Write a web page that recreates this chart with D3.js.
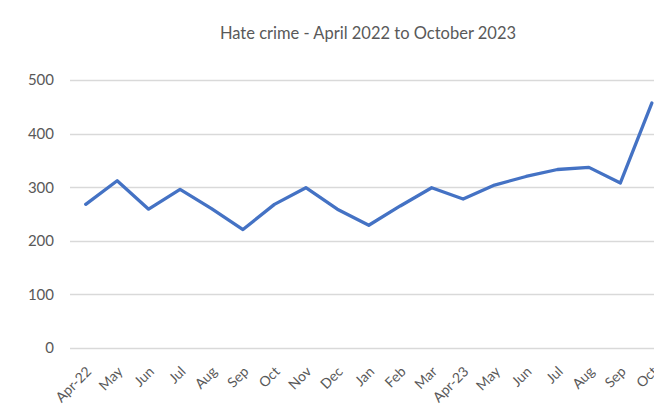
<!DOCTYPE html>
<html>
<head>
<meta charset="utf-8">
<script src="https://cdn.jsdelivr.net/npm/d3@7"></script>
<style>
    body { margin: 0; background: #fff; overflow: hidden; }
    text { font-family: Lato, "Open Sans", sans-serif; fill: #595959; }
</style>
</head>
<body>
<div id="chart"></div>
<script>
// chart data
let months = ["Apr-22", "May", "Jun", "Jul", "Aug", "Sep", "Oct", "Nov", "Dec", "Jan",
    "Feb", "Mar", "Apr-23", "May", "Jun", "Jul", "Aug", "Sep", "Oct"];
let crimes = [268, 312, 259, 296, 260, 221, 268, 299, 259, 229,
    265, 299, 278, 304, 320, 333, 337, 308, 457];
let yTicks = [0, 100, 200, 300, 400, 500];
let chartTitle = "Hate crime - April 2022 to October 2023";

let width = 654, height = 404;
let left = 70, bandW = 31.45;

let svg = d3.select("#chart").append("svg")
    .attr("width", width)
    .attr("height", height);

let keys = months.map(function(d, i) { return i });

let x = d3.scaleBand()
    .domain(keys)
    .range([left, left + bandW * months.length]);

let y = d3.scaleLinear()
    .domain([0, 500])
    .range([348, 80]);

// title
svg.append("text")
    .attr("x", 368)
    .attr("y", 39)
    .attr("text-anchor", "middle")
    .style("font-size", "16.5px")
    .text(chartTitle);

// gridlines
svg.append("g").selectAll("line")
    .data(yTicks)
    .enter()
    .append("line")
    .attr("x1", left)
    .attr("x2", width)
    .attr("y1", function(d) { return Math.round(y(d)) + 0.5 })
    .attr("y2", function(d) { return Math.round(y(d)) + 0.5 })
    .attr("stroke", "#d9d9d9")
    .attr("stroke-width", 1.3);

// y labels
svg.append("g").selectAll("text")
    .data(yTicks)
    .enter()
    .append("text")
    .attr("x", 54)
    .attr("y", function(d) { return y(d) })
    .attr("dy", "0.36em")
    .attr("text-anchor", "end")
    .style("font-size", "15px")
    .text(function(d) { return d });

// x labels, rotated (last one runs off the right edge, as in the original)
svg.append("g").selectAll("text")
    .data(keys)
    .enter()
    .append("text")
    .attr("transform", function(d) {
        return "translate(" + (x(d) + x.bandwidth() / 2 + 3) + ",369)rotate(-45)";
    })
    .attr("dy", "0.35em")
    .attr("text-anchor", "end")
    .style("font-size", "14px")
    .text(function(d) { return months[d] });

// line
let line = d3.line()
    .x(function(d, i) { return x(i) + x.bandwidth() / 2 })
    .y(function(d) { return y(d) });

svg.append("path")
    .attr("fill", "none")
    .attr("stroke", "#4472c4")
    .attr("stroke-width", 3.3)
    .attr("stroke-linejoin", "round")
    .attr("stroke-linecap", "round")
    .attr("d", line(crimes));
</script>
</body>
</html>
